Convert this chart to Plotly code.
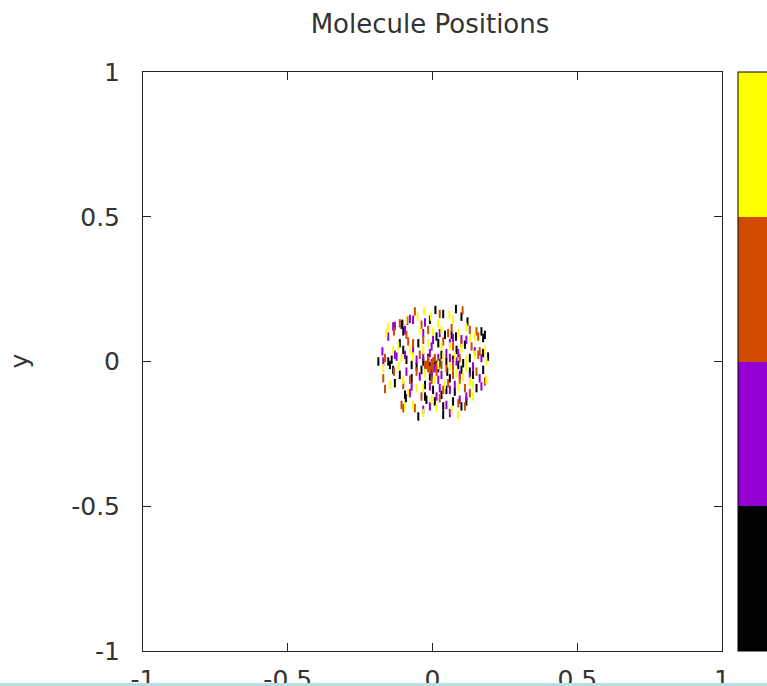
import plotly.graph_objects as go

# --- data ---
orange_x = [-0.061, 0.025, 0.104, -0.038, -0.133, 0.129, -0.090, -0.015, 0.054, 0.152, 0.158, -0.084,
            -0.032, 0.037, 0.071, 0.135, 0.163, -0.164, -0.044, -0.015, 0.008, 0.094, 0.158, -0.170,
            -0.133, -0.055, -0.015, 0.014, 0.048, 0.071, 0.152, 0.094, -0.164, -0.101, -0.003, 0.054,
            0.112, 0.181, -0.107, -0.101, -0.061, 0.025, 0.089, 0.112, -0.003, 0.002, 0.014, -0.021,
            0.031, -0.009, -0.113, 0.066, -0.067, 0.100, 0.002, -0.026, 0.020, 0.071, -0.078, 0.037,
            0.129, -0.038]
orange_y = [0.173, 0.164, 0.176, 0.127, 0.104, 0.109, 0.092, 0.109, 0.098, 0.104, 0.086, 0.069,
            0.075, 0.069, 0.052, 0.052, 0.035, 0.012, 0.023, 0.006, 0.012, 0.012, 0.023, -0.058,
            -0.035, -0.035, -0.023, -0.035, -0.023, -0.046, -0.035, -0.063, -0.095, -0.081, -0.063, -0.075,
            -0.092, -0.069, -0.150, -0.161, -0.161, -0.127, -0.144, -0.155, -0.012, 0.000, -0.017, -0.012,
            -0.012, -0.029, 0.132, 0.115, 0.063, 0.063, -0.023, -0.012, -0.006, -0.017, -0.063, -0.098,
            -0.109, -0.121]

purple_x = [-0.078, -0.087, -0.026, -0.130, -0.095, -0.153, -0.032, 0.025, 0.100, 0.117, -0.173, -0.067,
            -0.003, 0.060, 0.146, -0.095, -0.170, -0.130, -0.124, -0.055, -0.003, 0.020, 0.060, 0.083,
            0.169, -0.090, -0.003, 0.031, 0.129, 0.163, 0.020, -0.072, -0.009, 0.025, 0.060, 0.169,
            -0.032, -0.009, 0.048, 0.094, 0.117, 0.060, 0.071, 0.000, -0.032, 0.048, -0.136, -0.067,
            0.002, 0.071, -0.009, 0.089, 0.008, -0.044, 0.094, -0.078, 0.014, 0.077, 0.140]
purple_y = [0.147, 0.141, 0.135, 0.123, 0.109, 0.086, 0.098, 0.098, 0.077, 0.075, 0.035, 0.040,
            0.052, 0.063, 0.035, 0.023, 0.000, 0.023, 0.017, 0.006, -0.006, 0.012, 0.012, 0.000,
            0.012, -0.035, -0.035, -0.046, -0.052, -0.058, -0.063, -0.086, -0.086, -0.092, -0.098, -0.086,
            -0.167, -0.155, -0.150, -0.132, -0.121, -0.178, -0.006, -0.023, 0.017, 0.029, 0.121, 0.144,
            0.075, 0.081, 0.029, 0.029, -0.023, -0.052, -0.046, -0.109, -0.121, -0.081, -0.017]

black_x = [0.010, 0.081, 0.037, 0.100, -0.104, -0.009, 0.121, 0.181, 0.169, -0.101, 0.014, 0.066,
           0.081, -0.113, -0.049, 0.020, 0.083, 0.112, 0.175, -0.101, -0.187, -0.153, -0.141, -0.090,
           -0.072, -0.032, 0.014, 0.025, 0.048, 0.071, 0.106, 0.129, 0.192, -0.136, -0.113, -0.072,
           -0.038, -0.009, 0.060, 0.100, 0.140, 0.175, -0.130, -0.095, -0.026, 0.002, 0.031, 0.077,
           0.152, -0.092, -0.021, 0.008, 0.037, 0.071, 0.100, -0.049, 0.037, 0.002, 0.020, -0.015,
           0.008, -0.009, -0.107, 0.043, -0.055, -0.003, 0.051, 0.089, 0.129, -0.026, 0.048, 0.117,
           -0.015, 0.031, 0.175, -0.147]
black_y = [0.178, 0.181, 0.164, 0.155, 0.130, 0.144, 0.138, 0.092, 0.104, 0.104, 0.086, 0.092,
           0.086, 0.063, 0.063, 0.063, 0.040, 0.058, 0.029, 0.040, 0.000, 0.000, 0.006, 0.006,
           -0.012, 0.000, -0.012, -0.006, 0.000, 0.006, -0.006, 0.012, 0.017, -0.029, -0.046, -0.058,
           -0.029, -0.052, -0.058, -0.029, -0.046, -0.029, -0.075, -0.115, -0.121, -0.098, -0.115, -0.104,
           -0.092, -0.127, -0.132, -0.138, -0.155, -0.138, -0.155, -0.190, -0.184, -0.017, -0.023, -0.006,
           0.000, -0.017, 0.127, 0.092, -0.017, -0.046, -0.035, -0.012, -0.035, -0.081, -0.098, -0.138,
           0.012, 0.023, 0.081, -0.012]

yellow_x = [-0.029, -0.006, 0.058, -0.052, -0.153, 0.117, 0.071, -0.159, -0.044, 0.002, 0.031, 0.089,
            0.129, 0.146, -0.118, -0.078, -0.015, 0.031, 0.100, 0.181, -0.107, -0.067, 0.037, 0.077,
            0.117, 0.146, 0.186, -0.170, -0.118, -0.026, 0.083, 0.117, 0.186, -0.147, -0.084, -0.032,
            0.043, 0.089, 0.140, 0.129, -0.095, -0.067, -0.003, 0.066, -0.032, 0.089, -0.090, 0.020,
            0.060, -0.032, -0.136, 0.020, 0.060, 0.008, 0.106, -0.055, 0.014, 0.140, -0.101]
yellow_y = [0.175, 0.155, 0.161, 0.155, 0.121, 0.118, 0.144, 0.098, 0.109, 0.104, 0.109, 0.098,
            0.081, 0.086, 0.052, 0.040, 0.063, 0.052, 0.046, 0.040, 0.012, 0.017, 0.017, 0.017,
            0.006, 0.023, 0.000, -0.023, -0.017, -0.040, -0.040, -0.023, -0.063, -0.081, -0.109, -0.092,
            -0.081, -0.086, -0.081, -0.069, -0.155, -0.150, -0.132, -0.167, -0.178, -0.184, 0.144, 0.132,
            0.052, 0.040, 0.040, -0.012, -0.017, -0.063, -0.052, -0.092, -0.161, -0.121, -0.063]

series = [
    ("black", black_x, black_y, "#000000"),
    ("purple", purple_x, purple_y, "#9400D3"),
    ("orange", orange_x, orange_y, "#D04A00"),
    ("yellow", yellow_x, yellow_y, "#FFFF00"),
]
cb_colors = ["#000000", "#9400D3", "#D04A00", "#FFFF00"]
tick_vals = [-1, -0.5, 0, 0.5, 1]
tick_text = ["-1", "-0.5", "0", "0.5", "1"]

W, H = 767, 686
L, R, T, B = 143, 45, 72, 35
pw = W - L - R
ph = H - T - B
FONT = "DejaVu Sans"
TXT = "#333333"

fig = go.Figure()
for name, xs, ys, col in series:
    fig.add_trace(go.Scatter(
        x=xs, y=ys, mode="markers", name=name, showlegend=False,
        marker=dict(symbol="line-ns", size=6, line=dict(width=2, color=col)),
        hoverinfo="skip",
    ))

cs = []
n = len(cb_colors)
for i, c in enumerate(cb_colors):
    cs.append([i / n, c])
    cs.append([(i + 1) / n, c])

fig.add_trace(go.Scatter(
    x=[0, 0], y=[0, 0], mode="markers", showlegend=False, hoverinfo="skip",
    marker=dict(size=1, opacity=0, color=[0, 1], cmin=0, cmax=1, colorscale=cs,
                showscale=True,
                colorbar=dict(thickness=40, thicknessmode="pixels", len=1, lenmode="fraction",
                              x=(738 - L) / pw, xanchor="left", xpad=0, y=0.5, yanchor="middle",
                              ypad=0, outlinewidth=1, outlinecolor="#000000",
                              showticklabels=False, ticks="")),
))

axis_common = dict(
    range=[-1, 1], tickvals=tick_vals, ticktext=tick_text, ticks="inside", ticklen=8,
    tickwidth=1, tickcolor="#222", showline=True, linecolor="#222", linewidth=1,
    mirror="ticks", showgrid=False, zeroline=False,
    tickfont=dict(family=FONT, size=25, color=TXT),
)

fig.update_layout(
    width=W, height=H, margin=dict(l=L, r=R, t=T, b=B, autoexpand=False),
    paper_bgcolor="white", plot_bgcolor="white",
    title=dict(text="Molecule Positions", x=430 / W, xanchor="center",
               y=1 - 24 / H, yanchor="middle",
               font=dict(family=FONT, size=26, color=TXT)),
    xaxis=dict(**axis_common, ticklabelstandoff=6),
    yaxis=dict(**axis_common, ticklabelstandoff=17),
    annotations=[dict(text="y", xref="paper", yref="paper", x=(19 - L) / pw, y=0.5,
                      xanchor="center", yanchor="middle", showarrow=False, textangle=-90,
                      font=dict(family=FONT, size=25, color=TXT))],
    shapes=[dict(type="rect", xref="paper", yref="paper", layer="above",
                 x0=-L / pw, x1=(W - L) / pw,
                 y0=-(H + 2 - (H - B)) / ph, y1=-(683 - (H - B)) / ph,
                 fillcolor="#B6DEE0", line=dict(width=0))],
)

fig.write_html("out.html")
